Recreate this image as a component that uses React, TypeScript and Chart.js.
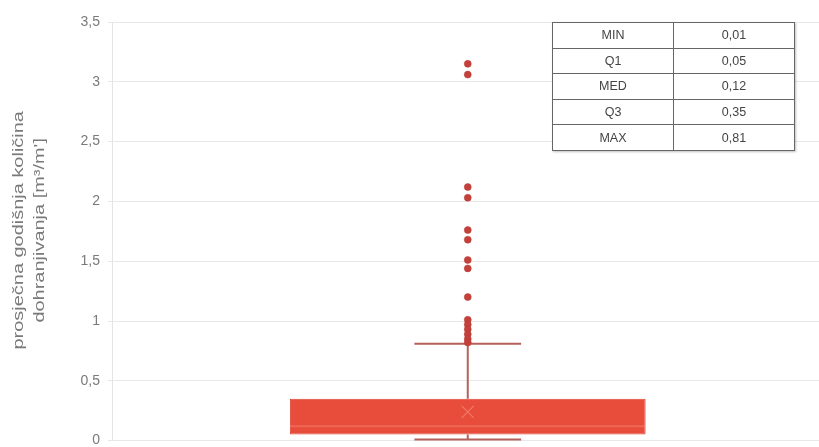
import React, { useEffect, useRef } from "react";
import { Chart, registerables } from "chart.js";

Chart.register(...registerables);

const categories = ["uzorak"];
const statLabels = ["MIN", "Q1", "MED", "Q3", "MAX"];
const statValues = [0.01, 0.05, 0.12, 0.35, 0.81];
const meanValue = 0.24;
const outliers = [3.15, 3.06, 2.12, 2.03, 1.76, 1.68, 1.51, 1.44, 1.2, 1.01, 0.97, 0.93, 0.89, 0.85, 0.82];
const yTicks = [0, 0.5, 1, 1.5, 2, 2.5, 3, 3.5];
const yTitle = ["prosječna godišnja količina", "dohranjivanja [m³/m']"];

const fmt = (v: number) => String(v).replace(".", ",");

export default function App() {
  const ref = useRef<HTMLCanvasElement | null>(null);

  useEffect(() => {
    document.body.style.margin = "0";
    document.body.style.overflow = "hidden";
    const [mn, q1, med, q3, mx] = statValues;
    const whiskerPlugin = {
      id: "whiskers",
      beforeDatasetsDraw(chart: any) {
        const ctx = chart.ctx;
        const x = chart.scales.x;
        const y = chart.scales.y;
        const cx = x.getPixelForValue(0);
        const half = (x.width / categories.length) * 0.075;
        ctx.save();
        ctx.strokeStyle = "#b5615b";
        ctx.lineWidth = 2;
        ctx.beginPath();
        ctx.moveTo(cx, y.getPixelForValue(q3));
        ctx.lineTo(cx, y.getPixelForValue(mx));
        ctx.moveTo(cx - half, y.getPixelForValue(mx));
        ctx.lineTo(cx + half, y.getPixelForValue(mx));
        ctx.moveTo(cx, y.getPixelForValue(q1));
        ctx.lineTo(cx, y.getPixelForValue(mn));
        ctx.moveTo(cx - half, y.getPixelForValue(mn));
        ctx.lineTo(cx + half, y.getPixelForValue(mn));
        ctx.stroke();
        ctx.restore();
      },
      afterDatasetsDraw(chart: any) {
        const ctx = chart.ctx;
        const x = chart.scales.x;
        const y = chart.scales.y;
        const cx = x.getPixelForValue(0);
        const bw = (x.width / categories.length) * 0.25;
        ctx.save();
        ctx.strokeStyle = "rgba(255,170,150,0.3)";
        ctx.lineWidth = 2;
        ctx.beginPath();
        ctx.moveTo(cx - bw, y.getPixelForValue(med));
        ctx.lineTo(cx + bw, y.getPixelForValue(med));
        ctx.stroke();
        const my = y.getPixelForValue(meanValue);
        ctx.strokeStyle = "rgba(255,190,170,0.4)";
        ctx.lineWidth = 1.2;
        ctx.beginPath();
        ctx.moveTo(cx - 6, my - 6);
        ctx.lineTo(cx + 6, my + 6);
        ctx.moveTo(cx + 6, my - 6);
        ctx.lineTo(cx - 6, my + 6);
        ctx.stroke();
        ctx.restore();
      },
      afterDraw(chart: any) {
        const ctx = chart.ctx;
        const y = chart.scales.y;
        const cy = (y.top + y.bottom) / 2 - 1;
        ctx.save();
        ctx.fillStyle = "#7a7a7a";
        ctx.font = "15px 'Liberation Sans', Arial, sans-serif";
        ctx.textAlign = "center";
        ctx.textBaseline = "middle";
        const xs = [19, 40];
        yTitle.forEach((t, i) => {
          ctx.save();
          ctx.translate(xs[i], cy);
          ctx.rotate(-Math.PI / 2);
          ctx.scale(1.33, 1);
          ctx.fillText(t, 0, 0);
          ctx.restore();
        });
        ctx.restore();
      },
    };

    const chart = new Chart(ref.current as HTMLCanvasElement, {
      type: "bar",
      data: {
        labels: categories,
        datasets: [
          {
            type: "bar",
            data: [[q1, q3]] as any,
            backgroundColor: "#e84c3b",
            borderColor: "#e0473a",
            borderWidth: 1,
            borderSkipped: false,
            categoryPercentage: 1,
            barPercentage: 0.5,
            order: 2,
          },
          {
            type: "line",
            data: outliers.map((v) => ({ x: categories[0], y: v })) as any,
            showLine: false,
            pointRadius: 3.5,
            pointBackgroundColor: "#c4403a",
            pointBorderColor: "#b83b35",
            pointBorderWidth: 0.5,
            order: 1,
          },
        ],
      },
      options: {
        animation: false,
        responsive: false,
        layout: { padding: { top: 22, bottom: 0, left: 0, right: 0 } },
        plugins: { legend: { display: false }, tooltip: { enabled: false } },
        scales: {
          x: { display: false },
          y: {
            min: 0,
            max: 3.5,
            afterBuildTicks: (s: any) => {
              s.ticks = yTicks.map((v) => ({ value: v }));
            },
            afterFit: (s: any) => {
              s.width = 112;
            },
            ticks: {
              color: "#7a7a7a",
              font: { family: "Liberation Sans, Arial", size: 14 },
              padding: 8,
              callback: (v: any) => fmt(Number(v)),
            },
            grid: { color: "#e8e8e8", tickLength: 4 },
            border: { color: "#e4e4e4" },
          },
        },
      },
      plugins: [whiskerPlugin],
    });
    return () => chart.destroy();
  }, []);

  return (
    <div style={{ position: "absolute", left: 0, top: 0, width: 819, height: 447, overflow: "hidden", background: "#fff" }}>
      <canvas ref={ref} width={828} height={457} style={{ display: "block", width: 828, height: 457 }} />
      <table
        style={{
          position: "absolute",
          left: 552,
          top: 22,
          width: 243,
          borderCollapse: "collapse",
          fontFamily: "Liberation Sans, Arial, sans-serif",
          fontSize: 12.5,
          color: "#444",
          background: "#fff",
          boxShadow: "1px 1px 2px rgba(0,0,0,0.25)",
          border: "1.5px solid #555",
        }}
      >
        <tbody>
          {statLabels.map((l, i) => (
            <tr key={l} style={{ height: 25.6 }}>
              <td style={{ border: "1px solid #666", width: 120, textAlign: "center", padding: 0 }}>{l}</td>
              <td style={{ border: "1px solid #666", textAlign: "center", padding: 0 }}>{fmt(statValues[i])}</td>
            </tr>
          ))}
        </tbody>
      </table>
    </div>
  );
}
